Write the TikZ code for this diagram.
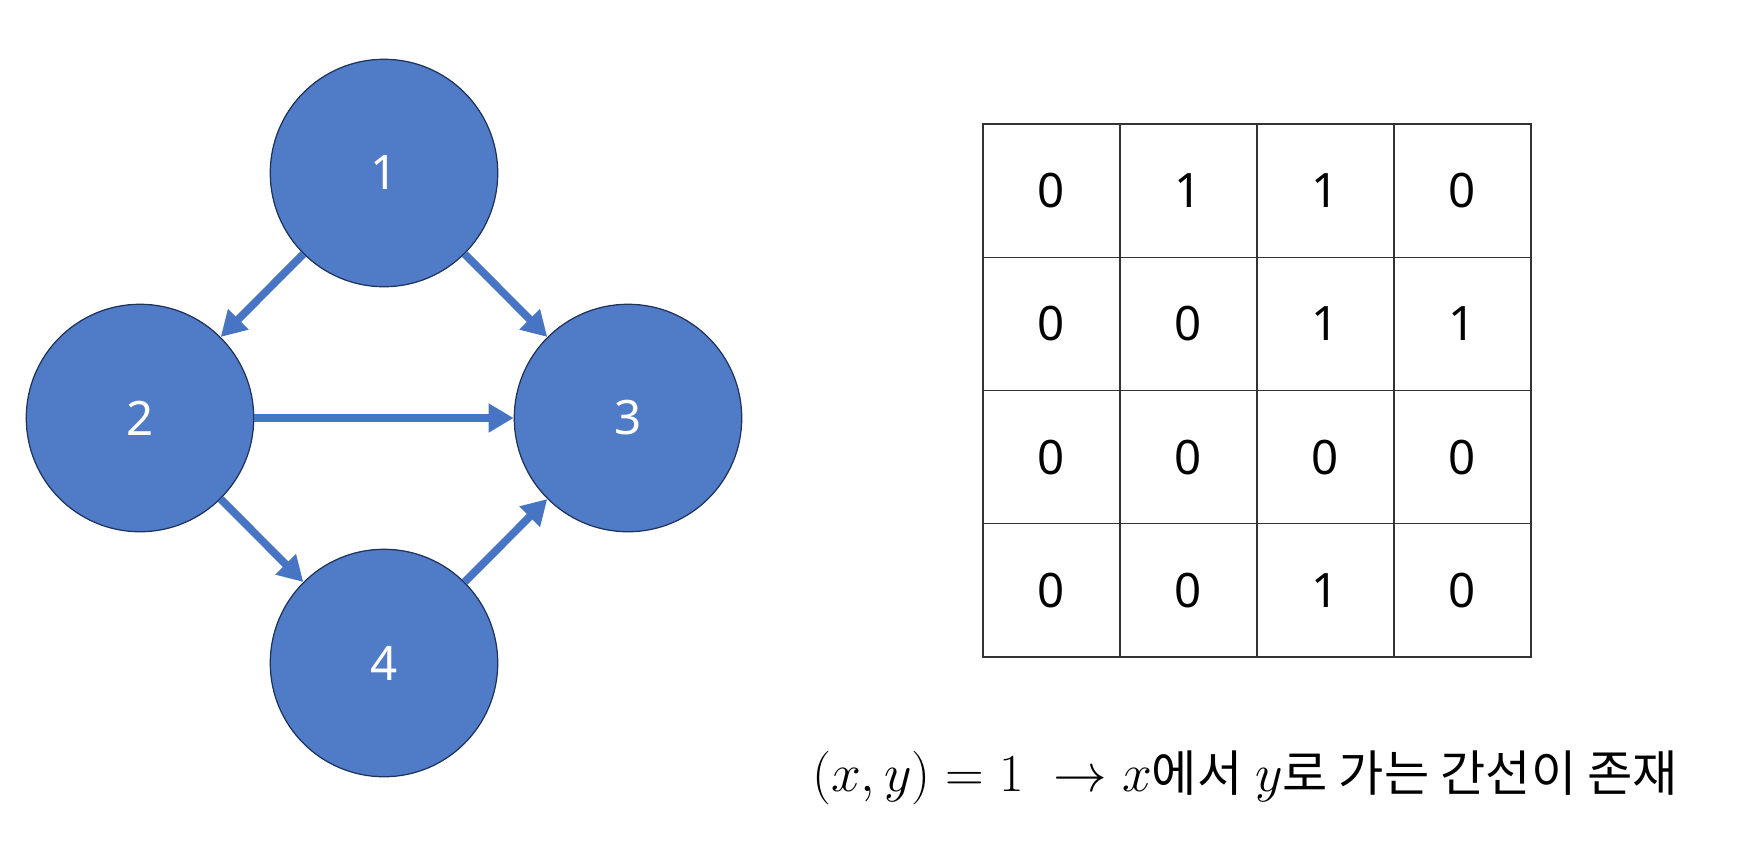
\RequirePackage{fix-cm}
\documentclass[tikz,border=0pt]{standalone}
\usepackage{fontspec}
\setmainfont{Noto Sans}
\newfontfamily\kr{Noto Sans CJK KR}
\usepackage{tikz}
\usetikzlibrary{positioning,arrows.meta,matrix}
\definecolor{nodeblue}{RGB}{80,123,199}
\definecolor{edgeblue}{RGB}{72,116,196}
\definecolor{rimblue}{RGB}{30,50,90}
\newcommand{\notemath}[1]{{\fontsize{30.5}{34}\selectfont$#1$}}

\begin{document}
\begin{tikzpicture}[node distance=4.9cm and 4.88cm, on grid,
vertex/.style={circle,fill=nodeblue,draw=rimblue,line width=0.7pt,minimum size=4.55cm,
  text=white,font=\fontsize{27}{30}\selectfont},
edge/.style={draw=edgeblue,line width=4.4pt,-{Triangle[length=0.5cm,width=0.55cm]}},
cell/.style={minimum width=2.74cm,minimum height=2.665cm,inner sep=0pt,
  anchor=center,font=\fontsize{27}{30}\selectfont},
tablegrid/.style={draw=black!80,line width=0.8pt}]
\useasboundingbox (0,0) rectangle (34.88,-17.14);

% graph
\node[vertex] (n1) at (7.68,-3.46) {1};
\node[vertex] (n2) [below left=of n1] {2};
\node[vertex] (n3) [below right=of n1] {3};
\node[vertex] (n4) [below right=of n2] {4};

\draw[edge] (n1) -- (n2);
\draw[edge] (n1) -- (n3);
\draw[edge] (n2) -- (n3);
\draw[edge] (n2) -- (n4);
\draw[edge] (n4) -- (n3);

% adjacency matrix
\matrix (adj) [matrix of nodes, nodes={cell}, column sep=0pt, row sep=0pt,
  inner sep=0pt, outer sep=0pt, anchor=north west] at (19.66,-2.48) {
0 & 1 & 1 & 0 \\
0 & 0 & 1 & 1 \\
0 & 0 & 0 & 0 \\
0 & 0 & 1 & 0 \\
};
\draw[tablegrid] (adj-1-1.north west) rectangle (adj-4-4.south east);
\foreach \c in {2,3,4}
  \draw[tablegrid] (adj-1-\c.north west) -- (adj-4-\c.south west);
\foreach \r in {2,3,4}
  \draw[tablegrid] (adj-\r-1.north west) -- (adj-\r-4.north east);

\node[font=\fontsize{28}{32}\selectfont] (note) at (24.9,-15.55)
  {\notemath{(x,y)=1\;\rightarrow x}{\kr 에서} \notemath{y}{\kr 로 가는 간선이 존재}};
\end{tikzpicture}
\end{document}
